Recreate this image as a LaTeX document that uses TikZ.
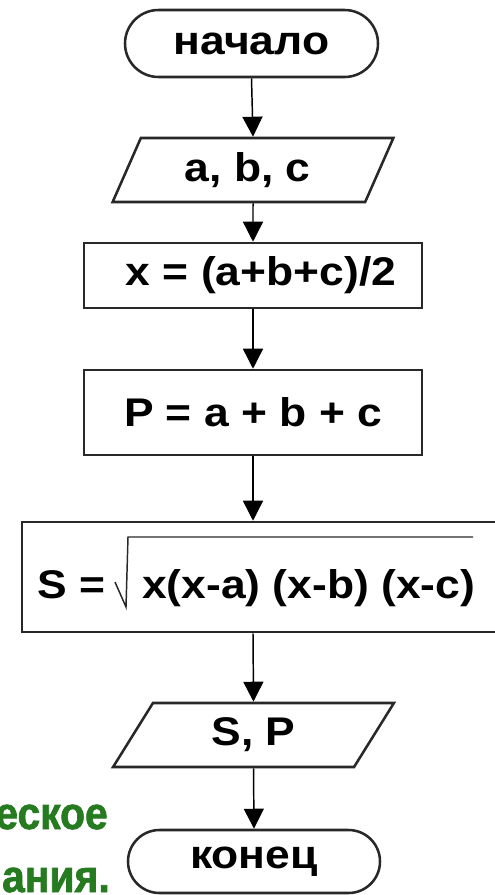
\documentclass[tikz,border=0pt]{standalone}
\usepackage{fontspec}
\setmainfont{Liberation Sans}
\newfontfamily\flowfont[FakeStretch=1.11]{Liberation Sans}
\newfontfamily\grfont[FakeStretch=0.9, BoldFeatures={FakeBold=1.5}]{Liberation Sans}
\usetikzlibrary{arrows.meta,shapes.geometric,shapes.misc}
\definecolor{slgreen}{RGB}{38,122,32}
\definecolor{edge}{RGB}{40,40,40}
\tikzset{
  txt/.style={font=\flowfont\fontsize{30}{36}\selectfont\bfseries, text=black},
  shp/.style={draw=edge, line width=1.9pt, inner sep=0pt, txt},
  termbox/.style={shp, rounded rectangle},
  procbox/.style={shp, rectangle},
  iobox/.style={shp, trapezium, trapezium stretches=true, trapezium left angle=64, trapezium right angle=116},
  flow/.style={draw=black, line width=1.1pt, -{Triangle[width=15pt,length=15pt]}},
  greentxt/.style={font=\grfont\fontsize{34}{40}\selectfont\bfseries, text=slgreen, inner sep=0pt}
}
\begin{document}
\begin{tikzpicture}[x=0.75pt,y=-0.75pt]
\useasboundingbox (0,0) rectangle (495,895);
\clip (0,0) rectangle (495,895);
\fill[white] (0,0) rectangle (495,895);

\node[termbox, minimum width=189.75pt, minimum height=50.25pt] (start) at (251.5,43.5) {начало};
\node[iobox, minimum width=210.75pt, minimum height=48pt] (in) at (253,170) {a, b, c\hspace*{8pt}};
\node[procbox, minimum width=253.5pt, minimum height=48.75pt] (xb) at (253,275.5) {\hspace*{12pt}x = (a+b+c)/2};
\node[procbox, minimum width=253.5pt, minimum height=63.75pt] (pb) at (253,412.5) {P = a + b + c};
\node[procbox, minimum width=362.25pt, minimum height=82.5pt] (sb) at (263.5,577) {};
\node[txt, anchor=base west, inner sep=0pt] (sl) at (37,598) {S =};
\node[txt, anchor=base west, inner sep=0pt] (sr) at (142,598) {x(x-a) (x-b) (x-c)};
\draw[line width=1.1pt, edge] (115,582) -- (126,607) -- (128,537) -- (473,537);
\node[iobox, minimum width=212.25pt, minimum height=48pt] (out) at (253.5,735) {S, P};
\node[termbox, minimum width=189pt, minimum height=47.25pt] (fin) at (254,861.5) {конец};

\draw[flow] (start.south) -- (in.north);
\draw[flow] (in.south) -- (xb.north);
\draw[flow] (xb.south) -- (pb.north);
\draw[flow] (pb.south) -- (sb.north -| pb.south);
\draw[flow] (sb.south -| pb.south) -- (out.north);
\draw[flow] (out.south) -- (fin.north);

\node[greentxt, anchor=base east] (g1) at (108,829) {еское};
\node[greentxt, anchor=base east] (g2) at (110,892) {ания.};
\end{tikzpicture}
\end{document}
